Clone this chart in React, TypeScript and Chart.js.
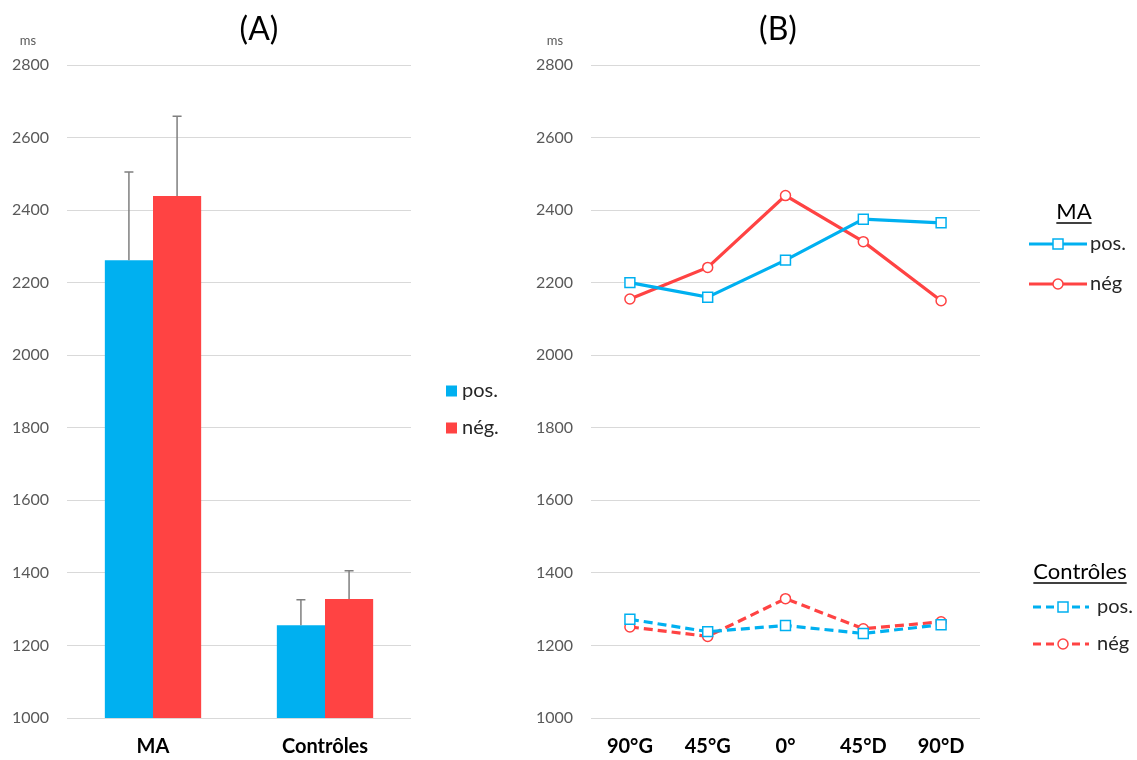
import React, { useEffect, useRef } from "react";
import { Chart, registerables } from "chart.js";
Chart.register(...registerables);

const groups = ["MA", "Contrôles"];
const barPos = [2262, 1256];
const barNeg = [2439, 1328];
const errPos = [243, 70];
const errNeg = [220, 78];

const angles = ["90°G", "45°G", "0°", "45°D", "90°D"];
const maPos = [2200, 2160, 2262, 2375, 2365];
const maNeg = [2155, 2242, 2440, 2313, 2150];
const ctrlPos = [1272, 1238, 1255, 1233, 1257];
const ctrlNeg = [1251, 1225, 1329, 1246, 1265];

const yMin = 1000;
const yMax = 2800;
const yStep = 200;

const BLUE = "#00B0F0";
const RED = "#FF4343";
const GRID = "#D9D9D9";
const TICK = "#595959";
const TEXT = "#262626";
const FONT = "Lato, 'Open Sans', sans-serif";

function drawMarker(ctx: CanvasRenderingContext2D, shape: string, x: number, y: number, color: string) {
  ctx.save();
  ctx.setLineDash([]);
  ctx.fillStyle = "#fff";
  ctx.strokeStyle = color;
  ctx.lineWidth = 1.5;
  ctx.beginPath();
  if (shape === "rect") {
    ctx.rect(x - 5, y - 5, 10, 10);
  } else {
    ctx.arc(x, y, 5, 0, Math.PI * 2);
  }
  ctx.fill();
  ctx.stroke();
  ctx.restore();
}

const textPlugin = {
  id: "texts",
  afterDraw(chart: any, _args: any, opts: any) {
    const ctx = chart.ctx as CanvasRenderingContext2D;
    ctx.save();
    ctx.textBaseline = "middle";
    ctx.textAlign = "center";
    ctx.fillStyle = "#000";
    ctx.font = `32px ${FONT}`;
    ctx.fillText(opts.title, opts.titleX, 30);
    ctx.fillStyle = TICK;
    ctx.font = `13px ${FONT}`;
    ctx.fillText("ms", opts.msX, 41);
    ctx.restore();
  },
};

const errorPlugin = {
  id: "errbars",
  afterDatasetsDraw(chart: any, _args: any, opts: any) {
    const ctx = chart.ctx as CanvasRenderingContext2D;
    const ys = chart.scales.y;
    ctx.save();
    ctx.strokeStyle = "#7F7F7F";
    ctx.lineWidth = 1.5;
    chart.data.datasets.forEach((ds: any, i: number) => {
      const meta = chart.getDatasetMeta(i);
      const errs = opts.errors[i];
      meta.data.forEach((bar: any, j: number) => {
        const top = ys.getPixelForValue(ds.data[j] + errs[j]);
        ctx.beginPath();
        ctx.moveTo(bar.x, bar.y);
        ctx.lineTo(bar.x, top);
        ctx.moveTo(bar.x - 4.5, top);
        ctx.lineTo(bar.x + 4.5, top);
        ctx.stroke();
      });
    });
    ctx.restore();
  },
};

const barLegendPlugin = {
  id: "barLegend",
  afterDraw(chart: any) {
    const ctx = chart.ctx as CanvasRenderingContext2D;
    const items = [
      { label: "pos.", color: BLUE, y: 391 },
      { label: "nég.", color: RED, y: 428 },
    ];
    ctx.save();
    ctx.textBaseline = "middle";
    ctx.textAlign = "left";
    ctx.font = `20px ${FONT}`;
    items.forEach((it) => {
      ctx.fillStyle = it.color;
      ctx.fillRect(446, it.y - 5.5, 11, 11);
      ctx.fillStyle = TEXT;
      ctx.fillText(it.label, 462, it.y);
    });
    ctx.restore();
  },
};

const lineLegendPlugin = {
  id: "lineLegend",
  afterDraw(chart: any) {
    const ctx = chart.ctx as CanvasRenderingContext2D;
    const groupsL = [
      {
        title: "MA", tx: 554, ty: 212, dash: [] as number[], x0: 509, x1: 567, mx: 538, textX: 570,
        items: [
          { label: "pos.", color: BLUE, shape: "rect", y: 244 },
          { label: "nég", color: RED, shape: "circle", y: 284 },
        ],
      },
      {
        title: "Contrôles", tx: 560, ty: 572, dash: [8, 5], x0: 513, x1: 569, mx: 543, textX: 577,
        items: [
          { label: "pos.", color: BLUE, shape: "rect", y: 607 },
          { label: "nég", color: RED, shape: "circle", y: 644 },
        ],
      },
    ];
    ctx.save();
    ctx.textBaseline = "middle";
    groupsL.forEach((g) => {
      ctx.font = `22px ${FONT}`;
      ctx.textAlign = "center";
      ctx.fillStyle = "#000";
      ctx.fillText(g.title, g.tx, g.ty);
      const w = ctx.measureText(g.title).width;
      ctx.strokeStyle = "#000";
      ctx.lineWidth = 1.5;
      ctx.setLineDash([]);
      ctx.beginPath();
      ctx.moveTo(g.tx - w / 2, g.ty + 11);
      ctx.lineTo(g.tx + w / 2, g.ty + 11);
      ctx.stroke();
      g.items.forEach((it) => {
        ctx.strokeStyle = it.color;
        ctx.lineWidth = 3;
        ctx.setLineDash(g.dash);
        ctx.beginPath();
        ctx.moveTo(g.x0, it.y);
        ctx.lineTo(g.x1, it.y);
        ctx.stroke();
        drawMarker(ctx, it.shape, g.mx, it.y, it.color);
        ctx.setLineDash([]);
        ctx.font = `20px ${FONT}`;
        ctx.textAlign = "left";
        ctx.fillStyle = TEXT;
        ctx.fillText(it.label, g.textX, it.y);
      });
    });
    ctx.restore();
  },
};

function yAxis(width: number) {
  return {
    min: yMin,
    max: yMax,
    afterFit: (s: any) => { s.width = width; },
    ticks: {
      stepSize: yStep,
      padding: 18,
      color: TICK,
      font: { family: FONT, size: 16 },
      callback: (v: any) => String(v),
    },
    grid: { color: GRID, lineWidth: 1, drawTicks: false },
    border: { display: false },
  };
}

function xAxis() {
  return {
    afterFit: (s: any) => { s.height = 42; },
    ticks: { padding: 17, color: "#000", font: { family: FONT, size: 20, weight: "bold" as const } },
    grid: { display: false, drawTicks: false },
    border: { display: false },
  };
}

export default function App() {
  const leftRef = useRef<HTMLCanvasElement>(null);
  const rightRef = useRef<HTMLCanvasElement>(null);

  useEffect(() => {
    const left = new Chart(leftRef.current!, {
      type: "bar",
      data: {
        labels: groups,
        datasets: [
          { label: "pos.", data: barPos, backgroundColor: BLUE, borderWidth: 0 },
          { label: "nég.", data: barNeg, backgroundColor: RED, borderWidth: 0 },
        ],
      },
      options: {
        responsive: false,
        animation: false,
        devicePixelRatio: 1,
        layout: { padding: { top: 65, right: 119, left: 0, bottom: 0 } },
        categoryPercentage: 0.56,
        barPercentage: 1,
        scales: { x: xAxis(), y: yAxis(67) },
        plugins: {
          legend: { display: false },
          tooltip: { enabled: false },
          texts: { title: "(A)", titleX: 259, msX: 28 },
          errbars: { errors: [errPos, errNeg] },
        } as any,
      } as any,
      plugins: [textPlugin, errorPlugin, barLegendPlugin],
    });

    const lineDs = (label: string, data: number[], color: string, shape: string, dash: number[]) => ({
      label,
      data,
      borderColor: color,
      backgroundColor: "#fff",
      borderWidth: 3.2,
      borderDash: dash,
      pointStyle: shape,
      pointRadius: shape === "rect" ? 7 : 5,
      pointBorderWidth: 1.5,
      pointBorderColor: color,
      pointBackgroundColor: "#fff",
      tension: 0,
    });

    const right = new Chart(rightRef.current!, {
      type: "line",
      data: {
        labels: angles,
        datasets: [
          lineDs("Contrôles pos.", ctrlPos, BLUE, "rect", [9, 5]),
          lineDs("Contrôles nég", ctrlNeg, RED, "circle", [9, 5]),
          lineDs("MA pos.", maPos, BLUE, "rect", []),
          lineDs("MA nég", maNeg, RED, "circle", []),
        ],
      },
      options: {
        responsive: false,
        animation: false,
        devicePixelRatio: 1,
        layout: { padding: { top: 65, right: 157, left: 0, bottom: 0 } },
        scales: { x: { ...xAxis(), offset: true }, y: yAxis(71) },
        plugins: {
          legend: { display: false },
          tooltip: { enabled: false },
          texts: { title: "(B)", titleX: 258, msX: 35 },
        } as any,
      } as any,
      plugins: [textPlugin, lineLegendPlugin],
    });

    return () => {
      left.destroy();
      right.destroy();
    };
  }, []);

  return (
    <div style={{ position: "absolute", left: 0, top: 0, width: 1137, height: 760, background: "#fff", overflow: "hidden" }}>
      <canvas ref={leftRef} width={530} height={760} style={{ position: "absolute", left: 0, top: 0 }} />
      <canvas ref={rightRef} width={617} height={760} style={{ position: "absolute", left: 520, top: 0 }} />
    </div>
  );
}
